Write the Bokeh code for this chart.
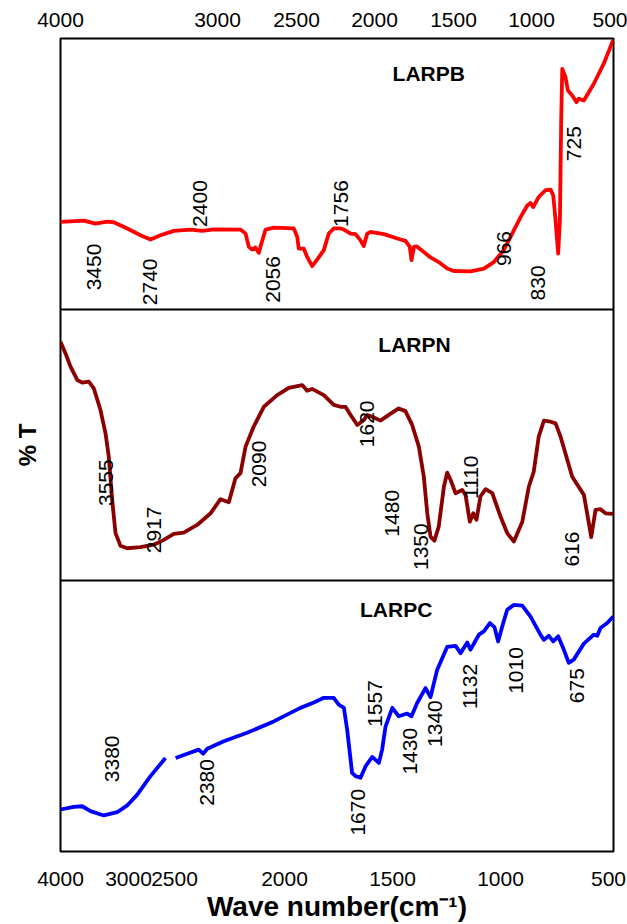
import numpy as np
from bokeh.plotting import figure
from bokeh.models import Range1d, LinearAxis, FixedTicker, Span, ColumnDataSource
from bokeh.core.properties import value
from bokeh.embed import file_html
from bokeh.resources import INLINE

nan = float("nan")

# ---------------- data (wavenumber in cm-1, relative %T within each panel) -------------
LARPB_WN = [4000, 3657, 3485, 3313, 3216, 3019, 2870, 2761, 2652, 2508, 2427, 2374, 2321, 2200,
            2177, 2162, 2147, 2132, 2117, 2101, 2086, 2049, 1957, 1941, 1934, 1911, 1895, 1872,
            1849, 1818, 1795, 1772, 1741, 1725, 1694, 1671, 1648, 1633, 1617, 1602, 1540, 1478,
            1440, 1420, 1412, 1401, 1389, 1355, 1324, 1286, 1247, 1216, 1139, 1077, 1031, 985,
            946, 907, 876, 861, 849, 823, 792, 768, 756, 745, 733, 725, 719, 714, 699, 688, 668,
            648, 637, 614, 568, 522, 478]
LARPB_T = [32.3, 32.8, 31.7, 32.4, 32.2, 29.9, 27.4, 25.8, 27.4, 29.0, 29.5, 29.0, 29.6, 29.5,
           28.0, 23.1, 22.1, 22.9, 20.9, 25.5, 29.5, 30.2, 29.9, 26.8, 22.5, 22.5, 19.4, 16.0,
           18.4, 21.9, 28.0, 29.9, 29.9, 29.5, 28.0, 27.8, 25.5, 23.4, 28.0, 28.6, 27.8, 26.2,
           25.3, 23.1, 18.2, 23.1, 23.3, 21.2, 19.2, 17.5, 15.1, 14.2, 14.1, 15.1, 17.5, 21.9,
           28.0, 34.1, 38.4, 39.3, 37.8, 41.5, 44.0, 44.2, 42.1, 32.9, 20.6, 32.9, 69.8, 88.8,
           85.7, 80.8, 79.0, 76.5, 77.8, 77.1, 83.3, 90.7, 99.5]

LARPN_WN = [4000, 3926, 3853, 3754, 3681, 3584, 3510, 3412, 3338, 3290, 3240, 3191, 3118, 3019,
            2870, 2725, 2616, 2508, 2458, 2397, 2336, 2291, 2253, 2223, 2200, 2177, 2140, 2094,
            2033, 1980, 1918, 1895, 1872, 1818, 1772, 1741, 1718, 1694, 1663, 1633, 1617, 1594,
            1556, 1517, 1471, 1440, 1409, 1378, 1355, 1339, 1324, 1306, 1286, 1262, 1247, 1231,
            1208, 1177, 1162, 1142, 1126, 1111, 1093, 1069, 1038, 1000, 969, 938, 899, 869, 846,
            823, 799, 768, 745, 722, 668, 614, 591, 580, 560, 537, 514, 478]
LARPN_T = [88.1, 83.8, 78.9, 74.0, 73.0, 73.4, 70.9, 62.9, 54.3, 45.7, 29.7, 17.5, 12.8, 11.9,
           12.3, 13.2, 15.0, 17.2, 17.7, 20.5, 24.8, 30.0, 28.9, 37.7, 39.6, 49.4, 56.8, 64.1,
           68.4, 71.1, 72.1, 70.0, 70.7, 68.4, 64.8, 64.1, 64.1, 61.1, 57.4, 59.2, 61.1, 60.4,
           59.0, 61.1, 63.5, 62.5, 57.4, 49.4, 38.3, 24.8, 16.2, 14.7, 19.9, 34.6, 39.8, 37.1,
           32.2, 33.4, 31.6, 21.7, 24.8, 22.4, 31.0, 33.7, 32.2, 23.6, 17.5, 14.4, 21.7, 34.6,
           40.2, 53.1, 59.0, 58.6, 58.0, 53.1, 38.3, 31.6, 21.2, 16.0, 26.1, 26.3, 24.8, 24.6]

LARPC_WN = [4000, 3804, 3681, 3559, 3363, 3166, 3019, 2905, 2761, 2598, nan, 2495, 2442, 2390,
            2370, 2351, 2276, 2170, 2049, 1926, 1864, 1818, 1772, 1749, 1725, 1710, 1687, 1671,
            1648, 1625, 1594, 1563, 1548, 1532, 1501, 1471, 1432, 1412, 1386, 1347, 1324, 1293,
            1247, 1208, 1185, 1154, 1139, 1100, 1077, 1049, 1028, 1011, 992, 969, 938, 899, 861,
            815, 799, 776, 756, 733, 707, 684, 661, 614, 568, 552, 537, 506, 478]
LARPC_T = [15.5, 16.5, 16.7, 14.9, 13.3, 14.5, 17.0, 21.0, 27.8, 34.5, nan, 34.5, 36.1, 37.6,
           36.1, 37.9, 40.7, 43.8, 48.0, 53.0, 55.0, 56.7, 56.7, 54.2, 53.0, 45.0, 29.0, 27.8,
           27.2, 31.4, 34.9, 32.7, 37.6, 46.2, 53.0, 49.9, 50.9, 49.9, 54.8, 60.3, 57.0, 67.1,
           75.5, 75.9, 73.2, 77.1, 74.5, 80.0, 81.2, 84.3, 82.8, 77.5, 83.0, 89.2, 91.0, 90.7,
           86.7, 80.0, 78.1, 79.6, 77.5, 79.4, 74.5, 69.6, 70.8, 76.7, 80.0, 79.6, 82.5, 84.3,
           86.7]

# peak annotations: text, wavenumber, relative %T
LARPB_NOTES = ["3450", "2740", "2400", "2056", "1756", "966", "830", "725"]
LARPB_NOTE_WN = [3510, 2761, 2385, 2051, 1737, 985, 827, 661]
LARPB_NOTE_T = [15.7, 10.2, 39.1, 11.1, 39.1, 22.5, 9.8, 61.2]

LARPN_NOTES = ["3555", "2917", "2090", "1620", "1480", "1350", "1110", "616"]
LARPN_NOTE_WN = [3338, 2725, 2117, 1617, 1501, 1370, 1136, 668]
LARPN_NOTE_T = [36.1, 18.7, 43.0, 57.8, 24.8, 12.5, 38.1, 11.6]

LARPC_NOTES = ["3380", "2380", "1670", "1557", "1430", "1340", "1132", "1010", "675"]
LARPC_NOTE_WN = [3240, 2351, 1659, 1579, 1417, 1301, 1139, 930, 645]
LARPC_NOTE_T = [34.2, 25.5, 14.5, 54.6, 37.0, 47.2, 60.9, 66.8, 61.2]

SAMPLES = ["LARPB", "LARPN", "LARPC"]
SAMPLE_WN = [1332, 1398, 1483]
SAMPLE_T = [87.0, 87.0, 89.2]

TICK_WN = [4000, 3000, 2500, 2000, 1500, 1000, 500]

# ---------------- layout of the (broken) wavenumber scale ----------------
SCALE_POS = [0, 68, 114, 224, 332, 440, 548]   # bottom-axis position of each TICK_WN
FRAME_W = 553
TOP_SPAN = 550                                   # linear top axis: 4000 -> 0, 500 -> 550


def wn_to_x(wn):
    wn = np.asarray(wn, dtype=float)
    x = np.interp(-wn, [-w for w in TICK_WN], SCALE_POS)
    slope = (SCALE_POS[-1] - SCALE_POS[-2]) / (TICK_WN[-2] - TICK_WN[-1])
    return np.where(wn < TICK_WN[-1], SCALE_POS[-1] + (TICK_WN[-1] - wn) * slope, x)


FONT = value("Liberation Sans")

p = figure(width=627, height=924, x_range=Range1d(0, FRAME_W), y_range=Range1d(0, 3),
           output_backend="svg", toolbar_location=None,
           min_border_left=60, min_border_right=14, min_border_top=38, min_border_bottom=72)
p.xgrid.visible = False
p.ygrid.visible = False
p.background_fill_color = "white"
p.border_fill_color = "white"
p.outline_line_color = "black"
p.outline_line_width = 2

for yb in (1, 2):
    p.add_layout(Span(location=yb, dimension="width", line_color="black", line_width=2))

panels = [
    (LARPB_WN, LARPB_T, "#FF0000", 2, LARPB_NOTES, LARPB_NOTE_WN, LARPB_NOTE_T),
    (LARPN_WN, LARPN_T, "#8B0000", 1, LARPN_NOTES, LARPN_NOTE_WN, LARPN_NOTE_T),
    (LARPC_WN, LARPC_T, "#0000FF", 0, LARPC_NOTES, LARPC_NOTE_WN, LARPC_NOTE_T),
]
for i, (wn, t, col, off, notes, nwn, nt) in enumerate(panels):
    src = ColumnDataSource(dict(x=wn_to_x(wn), y=off + np.asarray(t, dtype=float) / 100.0))
    p.line("x", "y", source=src, line_color=col, line_width=3.8, line_join="round")
    nsrc = ColumnDataSource(dict(x=wn_to_x(nwn), y=off + np.asarray(nt) / 100.0, text=notes))
    p.text("x", "y", text="text", source=nsrc, angle=np.pi / 2, text_align="center",
           text_baseline="middle", text_font=FONT, text_font_size="21px", text_color="black")
    ssrc = ColumnDataSource(dict(x=wn_to_x([SAMPLE_WN[i]]), y=[off + SAMPLE_T[i] / 100.0],
                                 text=[SAMPLES[i]]))
    p.text("x", "y", text="text", source=ssrc, text_align="center", text_baseline="middle",
           text_font=FONT, text_font_size="21px", text_font_style="bold", text_color="black")

# bottom axis (broken scale)
bottom_pos = [int(v) for v in SCALE_POS]
xa = p.xaxis[0]
xa.ticker = FixedTicker(ticks=bottom_pos)
xa.major_label_overrides = {pos: str(w) for pos, w in zip(bottom_pos, TICK_WN)}
xa.axis_line_color = None
xa.major_tick_line_color = None
xa.minor_tick_line_color = None
xa.major_label_text_font = "Liberation Sans"
xa.major_label_text_font_size = "21px"
xa.major_label_text_color = "black"
xa.major_label_standoff = 14
xa.axis_label = "Wave number(cm\u207b\u00b9)"
xa.axis_label_text_font = "Liberation Sans"
xa.axis_label_text_font_size = "28px"
xa.axis_label_text_font_style = "bold"
xa.axis_label_text_color = "black"
xa.axis_label_standoff = 2

# top axis (linear)
top_pos = [int(round((TICK_WN[0] - w) / (TICK_WN[0] - TICK_WN[-1]) * TOP_SPAN)) for w in TICK_WN]
ta = LinearAxis(ticker=FixedTicker(ticks=top_pos),
                major_label_overrides={pos: str(w) for pos, w in zip(top_pos, TICK_WN)})
ta.axis_line_color = None
ta.major_tick_line_color = None
ta.minor_tick_line_color = None
ta.major_label_text_font = "Liberation Sans"
ta.major_label_text_font_size = "21px"
ta.major_label_text_color = "black"
ta.major_label_standoff = 6
p.add_layout(ta, "above")

# left axis carries only the "% T" title
ya = p.yaxis[0]
ya.ticker = FixedTicker(ticks=[])
ya.axis_line_color = None
ya.major_tick_line_color = None
ya.minor_tick_line_color = None
ya.axis_label = "% T"
ya.axis_label_text_font = "Liberation Sans"
ya.axis_label_text_font_size = "24px"
ya.axis_label_text_font_style = "bold"
ya.axis_label_text_color = "black"
ya.axis_label_standoff = 20

open("out.html", "w").write(file_html(p, INLINE))
